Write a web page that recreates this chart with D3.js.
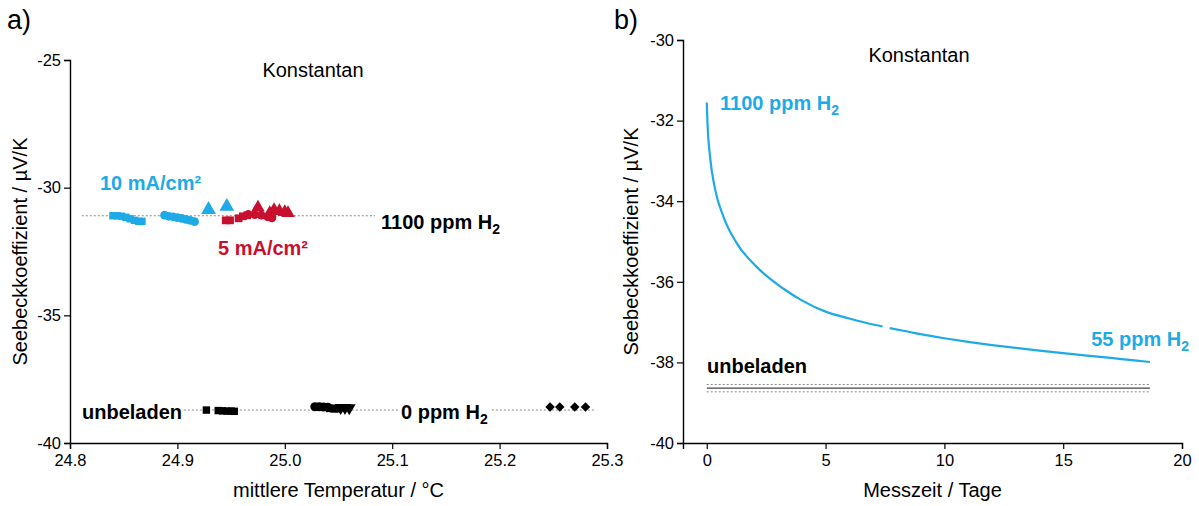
<!doctype html>
<html lang="de">
<head>
<meta charset="utf-8">
<script src="https://d3js.org/d3.v7.min.js"></script>
<style>
  body { margin: 0; background: #fff; }
  svg text { font-family: Arial, "Liberation Sans", sans-serif; }
</style>
</head>
<body>
<svg id="chart" width="1199" height="506"></svg>
<script>
// ---- data ----
var blue = "#1eaae6", red = "#c8102e";

// panel a) : temperature vs Seebeck coefficient
var cyanSquares  = [[24.840,-31.10],[24.844,-31.10],[24.848,-31.12],[24.852,-31.16],[24.856,-31.22],[24.860,-31.28],[24.864,-31.32],[24.867,-31.32]];
var cyanCircles  = [[24.888,-31.08],[24.892,-31.12],[24.896,-31.14],[24.900,-31.17],[24.904,-31.20],[24.908,-31.24],[24.912,-31.28],[24.916,-31.33]];
var cyanTriangles = [[24.929,-30.86],[24.946,-30.74]];
var redSquares   = [[24.945,-31.28],[24.949,-31.28],[24.957,-31.20],[24.961,-31.12],[24.965,-31.08]];
var redCircles   = [[24.966,-31.05],[24.972,-31.06],[24.978,-31.08],[24.984,-31.14],[24.988,-31.18]];
var redTriangles = [[24.975,-30.78],[24.986,-31.00],[24.990,-30.88],[24.995,-30.92],[25.000,-30.96],[25.003,-31.00]];
var blackSquares = [[24.927,-38.71],[24.938,-38.73],[24.942,-38.74],[24.946,-38.75],[24.950,-38.75],[24.953,-38.76]];
var blackCircles = [[25.028,-38.58],[25.032,-38.58],[25.036,-38.59],[25.040,-38.60]];
var blackSquares2 = [[25.042,-38.64],[25.046,-38.66],[25.050,-38.65]];
var blackTrianglesDown = [[25.052,-38.62],[25.056,-38.62],[25.060,-38.63]];
var blackDiamonds = [[25.247,-38.59],[25.256,-38.59],[25.270,-38.59],[25.280,-38.59]];
var refLevelsA = [{v:-31.1, x0:24.811, x1:25.084}, {v:-38.71, x0:24.906, x1:25.289}];

// panel b) : measuring time vs Seebeck coefficient
var curveB = [[0,-31.55],[0.03,-32.05],[0.14,-32.9],[0.35,-33.7],[0.7,-34.38],[1.26,-35.04],[2.1,-35.63],
  [3.2,-36.16],[4,-36.46],[5,-36.74],[6,-36.91],[7,-37.06],[7.4,-37.11],null,[7.7,-37.15],[8.5,-37.24],
  [9,-37.30],[10,-37.40],[11,-37.49],[12,-37.57],[13,-37.64],[14,-37.71],[15,-37.77],[16,-37.83],
  [17,-37.89],[18,-37.95],[18.65,-37.99]];
var refLevelsB = [{v:-38.55, dash:true}, {v:-38.64, dash:false}, {v:-38.73, dash:true}];
var refSpanB = [0, 18.65];

var ticksAx = [24.8,24.9,25.0,25.1,25.2,25.3], ticksAy = [-25,-30,-35,-40];
var ticksBx = [0,5,10,15,20], ticksBy = [-30,-32,-34,-36,-38,-40];

var svg = d3.select("#chart");

function drawAxes(x, y, xt, xMinor, yt, yMinor, fmtX, xTitle, yTitle, yTitleX) {
  var r = x.range(), ry = y.range();
  var gx = svg.append("g").attr("transform", "translate(0," + ry[0] + ")");
  gx.call(d3.axisBottom(x).tickValues(xMinor).tickSize(4).tickFormat(""));
  gx.call(d3.axisBottom(x).tickValues(xt).tickSize(6).tickPadding(5).tickFormat(fmtX));
  var gy = svg.append("g").attr("transform", "translate(" + r[0] + ",0)");
  gy.call(d3.axisLeft(y).tickValues(yMinor).tickSize(4).tickFormat(""));
  gy.call(d3.axisLeft(y).tickValues(yt).tickSize(6).tickPadding(3).tickFormat(d => String(d)));
  svg.selectAll(".domain").attr("stroke", "#000").attr("stroke-width", 1.4);
  svg.selectAll(".tick line").attr("stroke", "#000").attr("stroke-width", 1.2);
  svg.selectAll(".tick text").attr("font-size", 16.5).attr("fill", "#000")
    .style("font-family", "Arial, 'Liberation Sans', sans-serif");
  svg.append("text").attr("x", (r[0] + r[1]) / 2).attr("y", 497).attr("text-anchor", "middle")
    .attr("font-size", 20).text(xTitle);
  svg.append("text").attr("transform", "translate(" + yTitleX + "," + ((ry[0] + ry[1]) / 2) + ") rotate(-90)")
    .attr("text-anchor", "middle").attr("font-size", 20).text(yTitle);
}

function label(x, y, main, sub, color, size, bold, bg, anchor) {
  var t = svg.append("text").attr("x", x).attr("y", y).attr("fill", color)
    .attr("font-size", size).attr("font-weight", bold ? "bold" : "normal")
    .attr("text-anchor", anchor || "start");
  t.append("tspan").text(main);
  if (sub) t.append("tspan").attr("font-size", size * 0.7).attr("dy", 5).text(sub);
  if (bg) {
    var b = t.node().getBBox();
    svg.insert("rect", function() { return t.node(); })
      .attr("x", b.x - 3).attr("y", b.y).attr("width", b.width + 6).attr("height", b.height).attr("fill", "#fff");
  }
  return t;
}

// ---------------- panel a ----------------
var xA = d3.scaleLinear().domain([24.8, 25.3]).range([70, 607]);
var yA = d3.scaleLinear().domain([-40, -25]).range([443, 60]);

svg.append("g").selectAll("line").data(refLevelsA).join("line")
  .attr("x1", d => xA(d.x0)).attr("x2", d => xA(d.x1))
  .attr("y1", d => yA(d.v)).attr("y2", d => yA(d.v))
  .attr("stroke", "#888").attr("stroke-width", 1).attr("stroke-dasharray", "2,2");

function markers(data, type, size, color, rot) {
  svg.append("g").selectAll("path").data(data).join("path")
    .attr("transform", d => "translate(" + xA(d[0]) + "," + yA(d[1]) + ")" + (rot ? " rotate(" + rot + ")" : ""))
    .attr("d", d3.symbol().type(type).size(size))
    .attr("fill", color);
}
markers(cyanSquares, d3.symbolSquare, 55, blue);
markers(cyanCircles, d3.symbolCircle, 60, blue);
markers(cyanTriangles, d3.symbolTriangle, 95, blue);
markers(redSquares, d3.symbolSquare, 60, red);
markers(redCircles, d3.symbolCircle, 60, red);
markers(redTriangles, d3.symbolTriangle, 80, red);
markers(blackSquares, d3.symbolSquare, 55, "#000");
markers(blackCircles, d3.symbolCircle, 65, "#000");
markers(blackSquares2, d3.symbolSquare, 60, "#000");
markers(blackTrianglesDown, d3.symbolTriangle, 70, "#000", 180);
markers(blackDiamonds, d3.symbolSquare, 45, "#000", 45);

drawAxes(xA, yA, ticksAx, d3.range(24.8, 25.301, 0.05), ticksAy, d3.range(-40, -24.9, 1),
  d3.format(".1f"), "mittlere Temperatur / °C", "Seebeckkoeffizient / µV/K", 27);

svg.append("text").attr("x", 7).attr("y", 29).attr("font-size", 27).text("a)");
svg.append("text").attr("x", 313).attr("y", 77).attr("text-anchor", "middle").attr("font-size", 20).text("Konstantan");
label(100, 190, "10 mA/cm²", null, blue, 20, true);
label(218, 255, "5 mA/cm²", null, red, 20, true);
label(381, 229, "1100 ppm H", "2", "#000", 20, true);
label(82, 419, "unbeladen", null, "#000", 20, true);
label(401, 419, "0 ppm H", "2", "#000", 20, true, true);

// ---------------- panel b ----------------
var xB = d3.scaleLinear().domain([-1, 20]).range([683, 1182]);
var yB = d3.scaleLinear().domain([-40, -30]).range([443, 40]);

svg.append("g").selectAll("line").data(refLevelsB).join("line")
  .attr("x1", xB(refSpanB[0])).attr("x2", xB(refSpanB[1]))
  .attr("y1", d => yB(d.v)).attr("y2", d => yB(d.v))
  .attr("stroke", d => d.dash ? "#888" : "#444")
  .attr("stroke-width", d => d.dash ? 1 : 1.3)
  .attr("stroke-dasharray", d => d.dash ? "2,2" : null);

svg.append("path").datum(curveB)
  .attr("d", d3.line().defined(d => d !== null).x(d => xB(d[0])).y(d => yB(d[1])).curve(d3.curveMonotoneX))
  .attr("fill", "none").attr("stroke", blue).attr("stroke-width", 2.2);

drawAxes(xB, yB, ticksBx, d3.range(-1, 20.01, 1), ticksBy, d3.range(-40, -29.9, 1),
  d3.format("d"), "Messzeit / Tage", "Seebeckkoeffizient / µV/K", 638);

svg.append("text").attr("x", 614).attr("y", 29).attr("font-size", 27).text("b)");
svg.append("text").attr("x", 919).attr("y", 62).attr("text-anchor", "middle").attr("font-size", 20).text("Konstantan");
label(720, 110, "1100 ppm H", "2", blue, 20, true);
label(1189, 346, "55 ppm H", "2", blue, 20, true, false, "end");
label(707, 373, "unbeladen", null, "#000", 20, true);
</script>
</body>
</html>
